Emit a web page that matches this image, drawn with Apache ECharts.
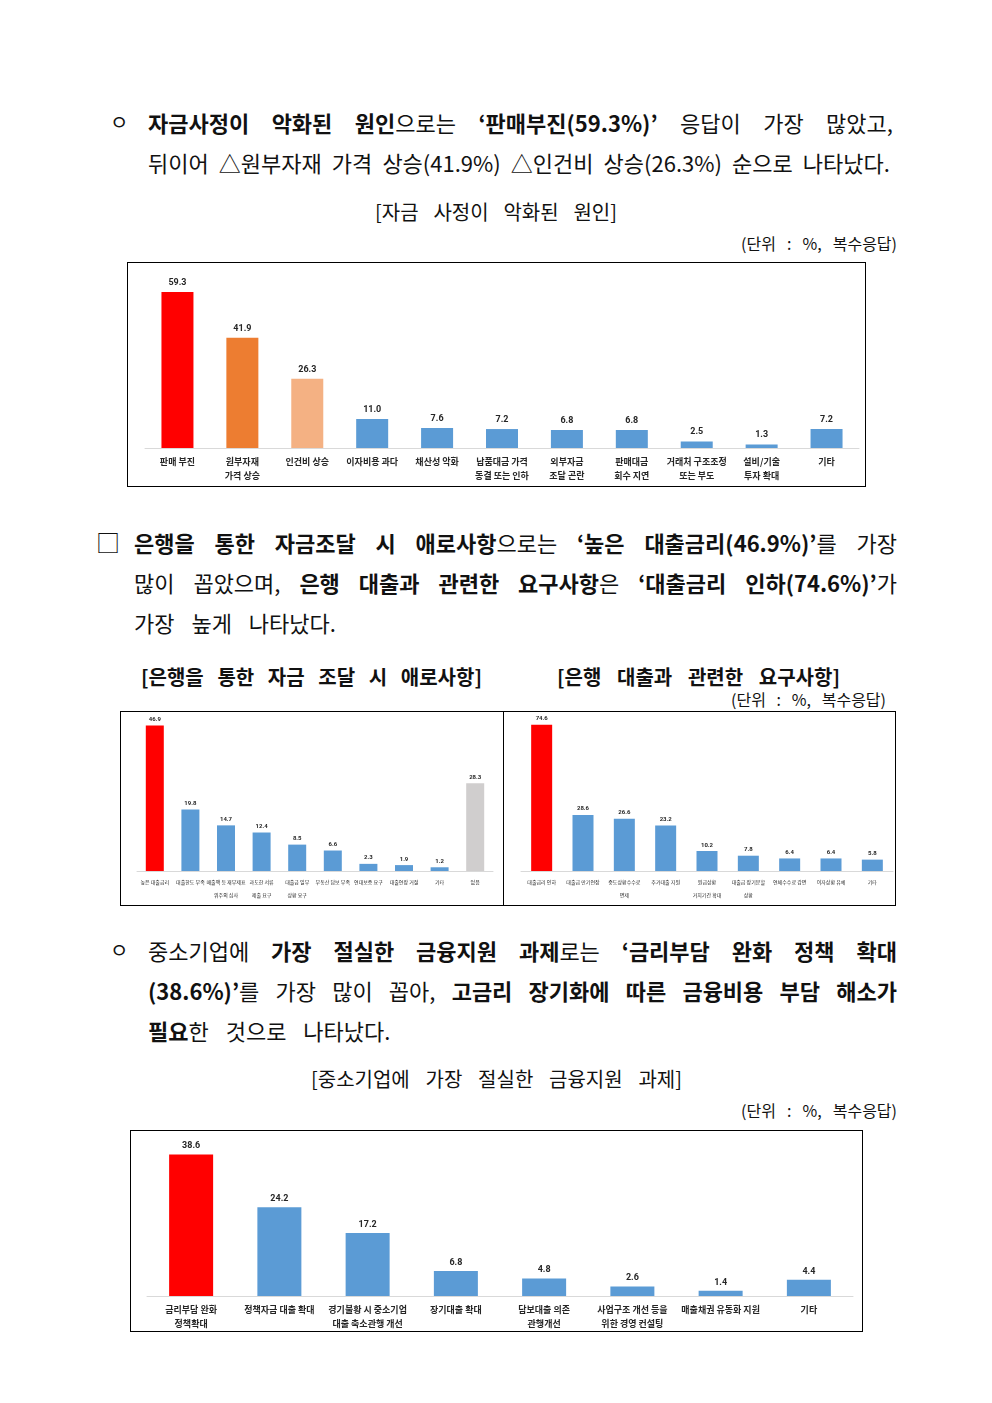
<!DOCTYPE html>
<html>
<head>
<meta charset="utf-8">
<script src="https://cdn.jsdelivr.net/npm/echarts@6/dist/echarts.min.js"></script>
<style>
  body{margin:0;background:#fff;width:992px;height:1403px;position:relative;font-family:"Noto Sans CJK KR","Noto Sans",sans-serif;color:#111;overflow:hidden}
  .ln{position:absolute;height:30px;line-height:30px;font-size:22px;white-space:nowrap;word-spacing:12px}
  .j{display:flex;justify-content:space-between;word-spacing:0}
  .ln b{font-weight:700}
  .mk{position:absolute;font-size:20px;line-height:30px;height:30px}
  .cap{position:absolute;font-size:20px;line-height:24px;height:24px;white-space:nowrap}
  .unit{position:absolute;font-size:16px;line-height:20px;height:20px;white-space:nowrap}
  .ttl{position:absolute;font-size:20px;font-weight:700;line-height:24px;height:24px;white-space:nowrap}
  .box{position:absolute;border:1px solid #000;box-sizing:border-box;background:#fff}
  .box div.c{position:absolute;left:0;top:0;right:0;bottom:0}
</style>
</head>
<body>

<div class="mk" style="left:110px;top:107px">ㅇ</div>
<div class="ln j" data-t="**자금사정이** **악화된** **원인**으로는 **‘판매부진(59.3%)’** 응답이 가장 많았고," style="left:148px;width:745px;top:107px"></div>
<div class="ln j" data-t="뒤이어 △원부자재 가격 상승(41.9%) △인건비 상승(26.3%) 순으로 나타났다." style="left:148px;width:742px;top:147px"></div>
<div class="cap j" data-t="[자금 사정이 악화된 원인]" style="left:375px;width:242px;top:200px"></div>
<div class="unit j" data-t="(단위 : %, 복수응답)" style="left:741px;width:156px;top:233px"></div>

<div class="box" style="left:127px;top:262px;width:739px;height:225px"><div class="c" id="c1"></div></div>

<div class="mk" style="left:96px;top:527px;font-size:24px">□</div>
<div class="ln j" data-t="**은행을** **통한** **자금조달** **시** **애로사항**으로는 **‘높은** **대출금리(46.9%)’**를 가장" style="left:134px;width:763px;top:527px"></div>
<div class="ln j" data-t="많이 꼽았으며, **은행** **대출과** **관련한** **요구사항**은 **‘대출금리** **인하(74.6%)’**가" style="left:134px;width:763px;top:567px"></div>
<div class="ln" style="left:134px;top:607px">가장 높게 나타났다.</div>

<div class="ttl j" data-t="[은행을 통한 자금 조달 시 애로사항]" style="left:141px;width:341px;top:665px"></div>
<div class="ttl j" data-t="[은행 대출과 관련한 요구사항]" style="left:557px;width:283px;top:665px"></div>
<div class="unit j" data-t="(단위 : %, 복수응답)" style="left:731px;width:155px;top:689px"></div>

<div class="box" style="left:120px;top:711px;width:385px;height:195px"><div class="c" id="c2"></div></div>
<div class="box" style="left:503px;top:711px;width:393px;height:195px"><div class="c" id="c3"></div></div>

<div class="mk" style="left:110px;top:935px">ㅇ</div>
<div class="ln j" data-t="중소기업에 **가장** **절실한** **금융지원** **과제**로는 **‘금리부담** **완화** **정책** **확대**" style="left:148px;width:749px;top:935px"></div>
<div class="ln j" data-t="**(38.6%)’**를 가장 많이 꼽아, **고금리** **장기화에** **따른** **금융비용** **부담** **해소가**" style="left:148px;width:749px;top:975px"></div>
<div class="ln" style="left:148px;top:1015px"><b>필요</b>한 것으로 나타났다.</div>
<div class="cap j" data-t="[중소기업에 가장 절실한 금융지원 과제]" style="left:311px;width:371px;top:1067px"></div>
<div class="unit j" data-t="(단위 : %, 복수응답)" style="left:741px;width:156px;top:1100px"></div>

<div class="box" style="left:130px;top:1130px;width:733px;height:202px"><div class="c" id="c4"></div></div>

<script>
// 자금 사정이 악화된 원인
var cats1 = ['판매 부진', '원부자재\n가격 상승', '인건비 상승', '이자비용 과다', '채산성 악화', '납품대금 가격\n동결 또는 인하', '외부자금\n조달 곤란', '판매대금\n회수 지연', '거래처 구조조정\n또는 부도', '설비/기술\n투자 확대', '기타'];
var vals1 = [59.3, 41.9, 26.3, 11.0, 7.6, 7.2, 6.8, 6.8, 2.5, 1.3, 7.2];

// 은행을 통한 자금 조달 시 애로사항
var cats2 = ['높은 대출금리', '대출한도 부족', '매출액 등 재무제표\n위주의 심사', '과도한 서류\n제출 요구', '대출금 일부\n상환 요구', '부동산 담보 부족', '연대보증 요구', '대출연장 거절', '기타', '없음'];
var vals2 = [46.9, 19.8, 14.7, 12.4, 8.5, 6.6, 2.3, 1.9, 1.2, 28.3];

// 은행 대출과 관련한 요구사항
var cats3 = ['대출금리 인하', '대출금 만기연장', '중도상환수수료\n면제', '추가대출 지원', '원금상환\n거치기간 확대', '대출금 장기분할\n상환', '연체수수료 감면', '이자상환 유예', '기타'];
var vals3 = [74.6, 28.6, 26.6, 23.2, 10.2, 7.8, 6.4, 6.4, 5.8];

// 중소기업에 가장 절실한 금융지원 과제
var cats4 = ['금리부담 완화\n정책확대', '정책자금 대출 확대', '경기불황 시 중소기업\n대출 축소관행 개선', '장기대출 확대', '담보대출 의존\n관행개선', '사업구조 개선 등을\n위한 경영 컨설팅', '매출채권 유동화 지원', '기타'];
var vals4 = [38.6, 24.2, 17.2, 6.8, 4.8, 2.6, 1.4, 4.4];

var RED = '#FF0000', BLUE = '#5B9BD5';

// lines spread word by word across a fixed width
document.querySelectorAll('.j').forEach(function(el){
  var words = el.getAttribute('data-t').split(' ');
  el.innerHTML = words.map(function(w){
    return '<span>' + w.replace(/\*\*(.+?)\*\*/g, '<b>$1</b>') + '</span>';
  }).join('');
});

function barChart(id, cats, vals, colors, o){
  var myChart = echarts.init(document.getElementById(id));
  var data = vals.map(function(v, i){
    return {value: v, itemStyle: {color: colors[i]}};
  });
  var option = {
    animation: false,
    grid: {left: o.left, right: o.right, top: o.top, bottom: o.bottom},
    xAxis: {
      type: 'category',
      data: cats,
      axisLine: {lineStyle: {color: '#D9D9D9', width: 1}},
      axisTick: {show: false},
      axisLabel: {
        interval: 0,
        fontSize: o.fs,
        lineHeight: o.lh,
        margin: o.margin,
        color: '#262626',
        fontWeight: o.fw,
        fontFamily: 'Noto Sans CJK KR'
      }
    },
    yAxis: {
      type: 'value',
      min: 0,
      max: o.max,
      show: false
    },
    series: [{
      type: 'bar',
      data: data,
      barWidth: o.bw,
      label: {
        show: true,
        position: 'top',
        distance: o.dist,
        fontSize: o.vfs,
        fontWeight: 'bold',
        color: '#262626',
        fontFamily: 'Roboto',
        formatter: function(p){ return p.value.toFixed(1); }
      }
    }]
  };
  myChart.setOption(option);
}

var col1 = vals1.map(function(v, i){ return i == 0 ? RED : i == 1 ? '#ED7D31' : i == 2 ? '#F4B183' : BLUE; });
barChart('c1', cats1, vals1, col1, {left: 17, right: 6, top: 14, bottom: 38, max: 65, bw: 32, fs: 9, vfs: 9, fw: 'bold', lh: 14, margin: 7, dist: 5});

var col2 = vals2.map(function(v, i){ return i == 0 ? RED : i == cats2.length - 1 ? '#D0CECE' : BLUE; });
barChart('c2', cats2, vals2, col2, {left: 16, right: 11, top: 10, bottom: 34, max: 48, bw: 18, fs: 5, vfs: 6, fw: 'normal', lh: 13, margin: 5, dist: 3});

var col3 = vals3.map(function(v, i){ return i == 0 ? RED : BLUE; });
barChart('c3', cats3, vals3, col3, {left: 17, right: 2, top: 10, bottom: 34, max: 76, bw: 21, fs: 5, vfs: 6, fw: 'normal', lh: 13, margin: 5, dist: 3});

var col4 = vals4.map(function(v, i){ return i == 0 ? RED : BLUE; });
barChart('c4', cats4, vals4, col4, {left: 16, right: 9, top: 11, bottom: 34, max: 42, bw: 44, fs: 9, vfs: 9, fw: 'bold', lh: 14, margin: 7, dist: 4});
</script>
</body>
</html>
